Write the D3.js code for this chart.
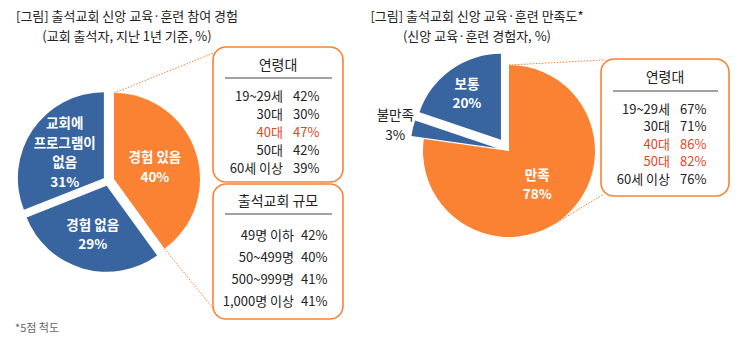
<!DOCTYPE html>
<html>
<head>
<meta charset="utf-8">
<script src="https://cdn.jsdelivr.net/npm/d3@7"></script>
<style>
  body { margin: 0; background: #fff; }
  svg { font-family: "Noto Sans CJK KR", "Noto Sans", sans-serif; }
</style>
</head>
<body>
<div id="chart"></div>
<script>
// Left chart: participation in faith education/training
const expLabels = ["경험 있음", "경험 없음", "교회에\n프로그램이\n없음"];
const expValues = [40, 29, 31];

const ageGroups = ["19~29세", "30대", "40대", "50대", "60세 이상"];
const ageExp = [42, 30, 47, 42, 39];
const ageExpHighlight = ["40대"];

const sizeGroups = ["49명 이하", "50~499명", "500~999명", "1,000명 이상"];
const sizeExp = [42, 40, 41, 41];

// Right chart: satisfaction
const satLabels = ["만족", "불만족", "보통"];
const satValues = [78, 3, 20];
const ageSat = [67, 71, 86, 82, 76];
const ageSatHighlight = ["40대", "50대"];

const orange = "#fb8233";
const blue = "#3865a0";
const red = "#e2461c";
const textColor = "#222";

const svg = d3.select("#chart")
    .append("svg")
    .attr("width", 746)
    .attr("height", 353);

// Titles
function title(x, y, lines) {
    lines.forEach((t, i) => {
        svg.append("text")
            .attr("x", x)
            .attr("y", y + i * 19.5)
            .attr("text-anchor", "middle")
            .attr("dominant-baseline", "central")
            .style("font-size", "13px")
            .style("fill", textColor)
            .text(t);
    });
}
title(127, 15.5, ["[그림] 출석교회 신앙 교육·훈련 참여 경험", "(교회 출석자, 지난 1년 기준, %)"]);
title(477, 15.5, ["[그림] 출석교회 신앙 교육·훈련 만족도*", "(신앙 교육·훈련 경험자, %)"]);

// Footnote
svg.append("text")
    .attr("x", 15)
    .attr("y", 327)
    .attr("dominant-baseline", "central")
    .style("font-size", "11px")
    .style("fill", "#666")
    .text("*5점 척도");

const r = 86;

// Draw a pie; offsets explode each slice along its bisector
function drawPie(cx, cy, labels, values, colors, offsets, labelFactors, labelColors) {
    const pie = d3.pie().sort(null).value(d => d)(values);
    const arc = d3.arc().innerRadius(0).outerRadius(r);
    const g = svg.append("g").attr("transform", `translate(${cx},${cy})`);
    const info = [];
    pie.forEach((p, i) => {
        const mid = (p.startAngle + p.endAngle) / 2;
        const dx = Math.sin(mid) * offsets[i];
        const dy = -Math.cos(mid) * offsets[i];
        const sg = g.append("g").attr("transform", `translate(${dx},${dy})`);
        sg.append("path")
            .attr("d", arc(p))
            .attr("fill", colors[i]);
        const lr = r * labelFactors[i];
        const lx = Math.sin(mid) * lr;
        const ly = -Math.cos(mid) * lr;
        const lines = (labels[i] + "\n" + values[i] + "%").split("\n");
        lines.forEach((t, j) => {
            sg.append("text")
                .attr("x", lx)
                .attr("y", ly + (j - (lines.length - 1) / 2) * 19.5)
                .attr("text-anchor", "middle")
                .attr("dominant-baseline", "central")
                .style("font-size", "13.5px")
                .style("font-weight", labelColors[i] === "#fff" ? "bold" : "normal")
                .style("fill", labelColors[i])
                .text(t);
        });
        info.push({p, dx, dy});
    });
    return {info, arc};
}

const leftPie = drawPie(108, 181, expLabels, expValues, [orange, blue, blue],
    [6.3, 5, 5], [0.5, 0.58, 0.55], ["#fff", "#fff", "#fff"]);
const rightPie = drawPie(509, 151, satLabels, satValues, [orange, blue, blue],
    [0, 12.8, 13.8], [0.5, 1.21, 0.68], ["#fff", textColor, "#fff"]);

// Dotted connector lines
function dotted(x1, y1, x2, y2) {
    svg.append("line")
        .attr("x1", x1).attr("y1", y1)
        .attr("x2", x2).attr("y2", y2)
        .attr("stroke", orange)
        .attr("stroke-width", 1)
        .attr("stroke-dasharray", "1.5,1.5");
}
function pointOn(pieObj, cx, cy, i, angle) {
    const it = pieObj.info[i];
    return [cx + it.dx + Math.sin(angle) * r, cy + it.dy - Math.cos(angle) * r];
}
{
    const p = leftPie.info[0].p;
    const a = pointOn(leftPie, 108, 181, 0, p.startAngle);
    const b = pointOn(leftPie, 108, 181, 0, p.endAngle);
    dotted(a[0], a[1], 216, 52);
    dotted(b[0], b[1], 216, 312);
}
{
    const p = rightPie.info[0].p;
    const a = pointOn(rightPie, 509, 151, 0, p.startAngle);
    const b = pointOn(rightPie, 509, 151, 0, Math.PI * 0.82);
    dotted(a[0], a[1], 604, 60);
    dotted(b[0], b[1], 604, 194);
}

// Breakdown boxes
function drawBox(x, y, w, h, heading, lineY, groups, vals, highlight, rowStart, rowStep, labelRight, pctLeft) {
    const g = svg.append("g");
    g.append("rect")
        .attr("x", x).attr("y", y)
        .attr("width", w).attr("height", h)
        .attr("rx", 13)
        .attr("fill", "#fff")
        .attr("stroke", orange)
        .attr("stroke-width", 1.6);
    g.append("text")
        .attr("x", x + w / 2)
        .attr("y", y + (lineY - y) / 2 + 1)
        .attr("text-anchor", "middle")
        .attr("dominant-baseline", "central")
        .style("font-size", "14px")
        .style("fill", textColor)
        .text(heading);
    g.append("line")
        .attr("x1", x + 12).attr("x2", x + w - 11)
        .attr("y1", lineY).attr("y2", lineY)
        .attr("stroke", "#444")
        .attr("stroke-width", 1);
    const yScale = d3.scalePoint()
        .domain(groups)
        .range([rowStart, rowStart + rowStep * (groups.length - 1)]);
    groups.forEach((grp, i) => {
        const col = highlight.includes(grp) ? red : textColor;
        g.append("text")
            .attr("x", labelRight)
            .attr("y", yScale(grp))
            .attr("text-anchor", "end")
            .attr("dominant-baseline", "central")
            .style("font-size", "13px")
            .style("fill", col)
            .text(grp);
        g.append("text")
            .attr("x", pctLeft)
            .attr("y", yScale(grp))
            .attr("dominant-baseline", "central")
            .style("font-size", "13px")
            .style("fill", col)
            .text(vals[i] + "%");
    });
}

drawBox(213, 47, 130, 135, "연령대", 78, ageGroups, ageExp, ageExpHighlight, 95, 18.2, 283, 293);
drawBox(213, 184, 130, 135, "출석교회 규모", 214, sizeGroups, sizeExp, [], 234, 22.2, 294, 301);
drawBox(601, 59, 128, 137, "연령대", 91, ageGroups, ageSat, ageSatHighlight, 108, 17.6, 670, 680);
</script>
</body>
</html>
